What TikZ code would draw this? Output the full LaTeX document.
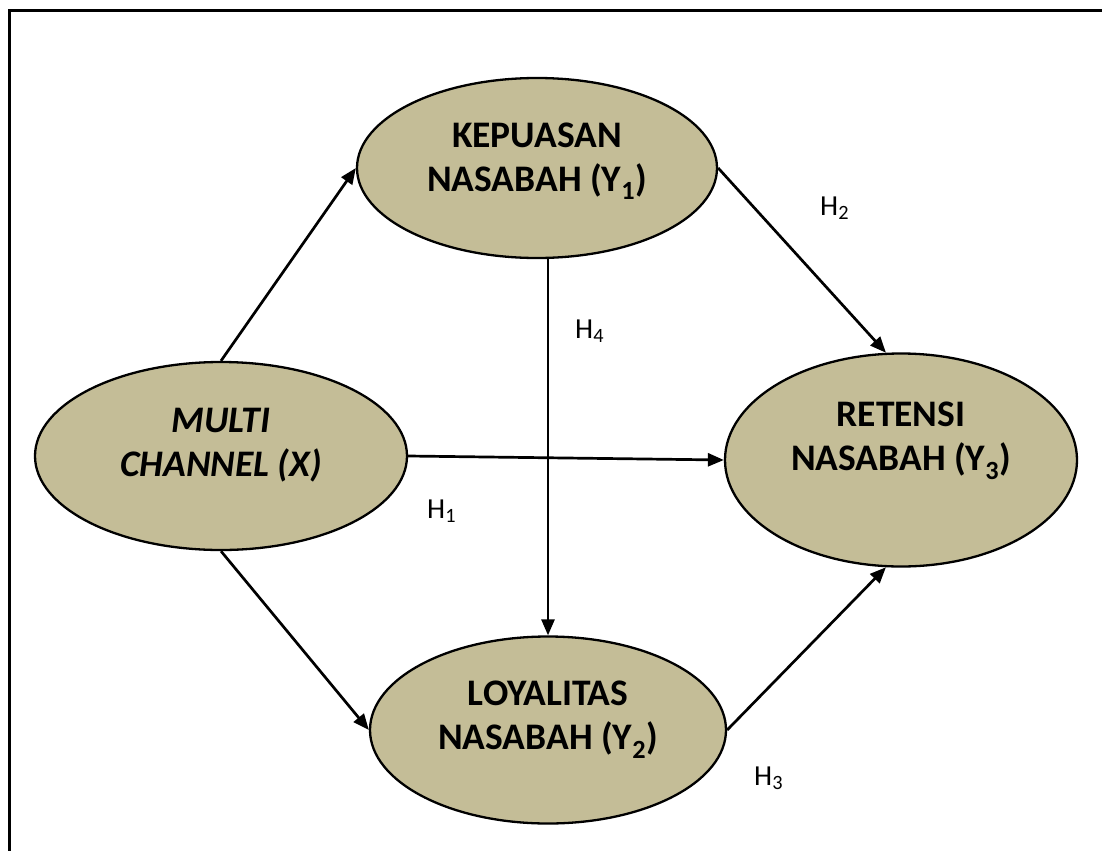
\documentclass[tikz,border=0pt]{standalone}
\usepackage{fontspec}
\setmainfont{Carlito}
\usetikzlibrary{shapes.geometric,arrows.meta,calc}
\definecolor{vartan}{HTML}{C4BD97}
\begin{document}
\begin{tikzpicture}[x=1pt,y=-1pt,
  var/.style={ellipse,draw=black,line width=2.3pt,fill=vartan,inner sep=0pt},
  vartext/.style={align=center,inner sep=0pt,font=\fontsize{37.5}{44}\selectfont\bfseries},
  hyp/.style={anchor=base west,inner sep=0pt,font=\fontsize{29}{33}\selectfont},
  link/.style={line width=2.7pt,-{Triangle[length=16pt,width=13pt]}}]
\useasboundingbox (0,0) rectangle (1102,851);

% open frame: top and left edges
\draw[line width=3pt,line join=miter] (1102,11) -- (9,11) -- (9,851);

% variables
\node[var,minimum width=372pt,minimum height=188pt] (X)  at (221,456) {};
\node[var,minimum width=360pt,minimum height=180pt] (Y1) at (537,168) {};
\node[var,minimum width=356pt,minimum height=187pt] (Y2) at (548,730) {};
\node[var,minimum width=352pt,minimum height=213pt] (Y3) at (901,460) {};

\node[vartext] (Xt)  at ($(X.center)+(0,-11)$)  {\itshape MULTI\\\itshape CHANNEL (X)};
\node[vartext] (Y1t) at ($(Y1.center)+(0,-7)$)  {KEPUASAN\\NASABAH (Y\textsubscript{1})};
\node[vartext] (Y2t) at ($(Y2.center)+(0,-10)$) {LOYALITAS\\NASABAH (Y\textsubscript{2})};
\node[vartext] (Y3t) at ($(Y3.center)+(0,-19)$) {RETENSI\\NASABAH (Y\textsubscript{3})};

% paths
\draw[link] (X.north) -- (Y1.west);
\draw[link] (Y1.east) -- (Y3.98);
\draw[link] (X.east) -- (Y3.west);
\draw[link] (Y1.south -| Y2.north) -- (Y2.north);
\draw[link] (X.south) -- (Y2.west);
\draw[link] (Y2.east) -- (Y3.262);

% hypothesis labels
\node[hyp] (h1) at (427,518) {H\textsubscript{1}};
\node[hyp] (h2) at (820,215) {H\textsubscript{2}};
\node[hyp] (h3) at (754,785) {H\textsubscript{3}};
\node[hyp] (h4) at (575,338) {H\textsubscript{4}};
\end{tikzpicture}
\end{document}
